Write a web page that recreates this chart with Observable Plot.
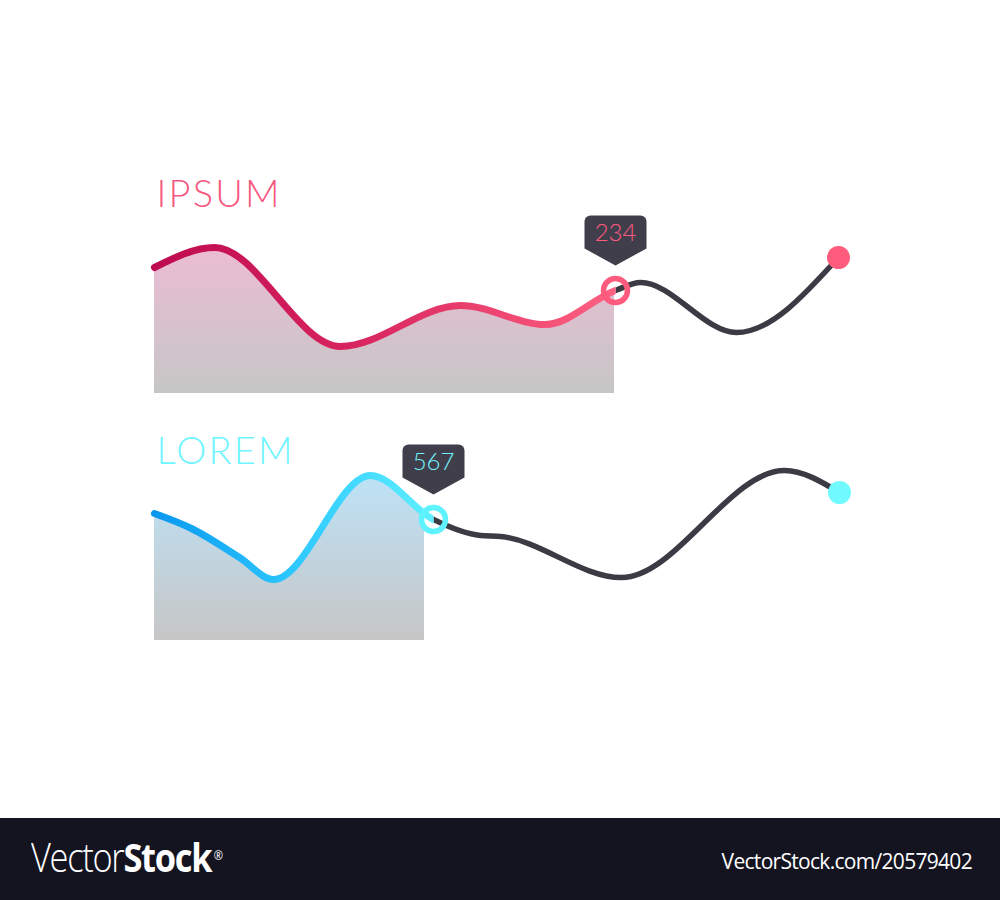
<!DOCTYPE html>
<html><head><meta charset="utf-8">
<script src="https://cdn.jsdelivr.net/npm/d3@7"></script>
<script src="https://cdn.jsdelivr.net/npm/@observablehq/plot@0.6"></script>
<style>
html,body{margin:0;padding:0;background:#fff;}
#page{width:1000px;height:900px;position:relative;overflow:hidden;background:#fff;}
#charts svg{display:block;}
#footer{position:absolute;left:0;top:818px;width:1000px;height:82px;background:#141421;color:#fff;font-family:"Open Sans",sans-serif;}
#footer .logo{position:absolute;left:31px;top:15px;font-size:40px;line-height:48px;letter-spacing:-1.5px;white-space:nowrap;transform:scaleX(0.86);transform-origin:0 50%;}
#footer .logo .thin{font-weight:300;}
#footer .logo .bold{font-weight:700;}
#footer .logo sup{font-size:13px;font-weight:400;vertical-align:top;position:relative;top:-2px;margin-left:3px;letter-spacing:0;}
#footer .url{position:absolute;right:28px;top:29px;font-size:21px;line-height:28px;letter-spacing:-0.7px;white-space:nowrap;}
</style></head>
<body><div id="page"><div id="charts"></div>
<div id="footer"><div class="logo"><span class="thin">Vector</span><span class="bold">Stock</span><sup>®</sup></div><div class="url">VectorStock.com/20579402</div></div>
</div>
<script>
// ---- data (x: position along the series, y: value above baseline) ----
const ipsumTitle = "IPSUM";
const ipsumX = [0, 60, 186, 306, 391, 461, 486, 582, 684];
const ipsumY = [126, 146, 47, 88, 69, 103, 111, 61, 136];
const ipsumMarkerIndex = 5;
const ipsumFillEnd = 460;
const ipsumLabel = "234";

const loremTitle = "LOREM";
const loremX = [0, 37, 85, 119, 216, 279, 326, 346, 467, 630, 685];
const loremY = [127, 112, 83, 61, 165, 121, 105, 104, 63, 170, 148];
const loremMarkerIndex = 5;
const loremFillEnd = 270;
const loremLabel = "567";

const xDomain = [0, 684];
const DARK = "#3b3a45";
const FONT = "Lato, 'Open Sans', sans-serif";
const CURVE = "monotone-x";

const callout = {
  draw(ctx) {
    const w = 31, tip = -25, side = -42, top = -75, r = 6;
    ctx.moveTo(0, tip);
    ctx.lineTo(-w, side);
    ctx.lineTo(-w, top + r);
    ctx.arcTo(-w, top, -w + r, top, r);
    ctx.lineTo(w - r, top);
    ctx.arcTo(w, top, w, top + r, r);
    ctx.lineTo(w, side);
    ctx.closePath();
  }
};

function makeChart(cfg) {
  const data = cfg.xs.map((x, i) => ({x, y: cfg.ys[i]}));
  const marker = data[cfg.markerIndex];
  const end = data[data.length - 1];
  const id = cfg.id;
  const plot = Plot.plot({
    width: 1000, height: cfg.height,
    marginLeft: 154, marginRight: 162, marginTop: cfg.marginTop, marginBottom: cfg.marginBottom,
    x: {domain: xDomain, axis: null},
    y: {domain: [0, cfg.yMax], axis: null},
    style: {background: "transparent", overflow: "visible"},
    marks: [
      Plot.areaY(data, {x: "x", y: "y", curve: CURVE, fill: `url(#${id}-area)`}),
      Plot.line(data, {x: "x", y: "y", curve: CURVE, stroke: DARK, strokeWidth: 5.5, strokeLinecap: "round"}),
      Plot.line(data, {x: "x", y: "y", curve: CURVE, stroke: `url(#${id}-line)`, strokeWidth: 7, strokeLinecap: "round"}),
      Plot.dot([end], {x: "x", y: "y", r: 11.5, fill: cfg.endColor}),
      Plot.dot([marker], {x: "x", y: "y", r: 12, fill: "none", stroke: cfg.ringColor, strokeWidth: 5.5}),
      Plot.dot([marker], {x: "x", y: "y", r: 10, symbol: callout, fill: "#403e4b"}),
      Plot.text([marker], {x: "x", y: "y", text: () => cfg.label, dy: -57, fill: cfg.labelColor, fontSize: 24, fontFamily: FONT, fontWeight: 300}),
      Plot.text([cfg.title], {frameAnchor: "top-left", text: d => d, textAnchor: "start", lineAnchor: "top", dx: 2, dy: cfg.titleDy, fill: cfg.titleColor, fontSize: 38, fontFamily: FONT, fontWeight: 300})
    ]
  });
  const svg = d3.select(plot);
  const X = plot.scale("x");
  const x0 = X.apply(xDomain[0]), mx = X.apply(marker.x), fx = X.apply(cfg.fillEnd);
  const defs = svg.insert("defs", ":first-child");
  const lg = defs.append("linearGradient").attr("id", id + "-line").attr("gradientUnits", "userSpaceOnUse")
    .attr("x1", x0).attr("x2", mx).attr("y1", 0).attr("y2", 0);
  cfg.lineStops.forEach(([o, c]) => lg.append("stop").attr("offset", o).attr("stop-color", c));
  const ag = defs.append("linearGradient").attr("id", id + "-area").attr("x1", 0).attr("x2", 0).attr("y1", 0).attr("y2", 1);
  cfg.areaStops.forEach(([o, c]) => ag.append("stop").attr("offset", o).attr("stop-color", c));
  const clip = (name, a, b) => defs.append("clipPath").attr("id", id + "-" + name)
    .append("rect").attr("x", a).attr("y", -100).attr("width", b - a).attr("height", cfg.height + 200);
  clip("fill", 0, fx); clip("left", 0, mx); clip("right", mx, 1000);
  const areas = plot.querySelectorAll('g[aria-label="area"]');
  const lines = plot.querySelectorAll('g[aria-label="line"]');
  const texts = plot.querySelectorAll('g[aria-label="text"]');
  areas[0].setAttribute("clip-path", `url(#${id}-fill)`);
  lines[0].setAttribute("clip-path", `url(#${id}-right)`);
  lines[1].setAttribute("clip-path", `url(#${id}-left)`);
  texts[texts.length - 1].setAttribute("letter-spacing", "2.2");
  return plot;
}

const holder = document.getElementById("charts");
holder.appendChild(makeChart({
  id: "ipsum", xs: ipsumX, ys: ipsumY, markerIndex: ipsumMarkerIndex, fillEnd: ipsumFillEnd,
  label: ipsumLabel, title: ipsumTitle,
  height: 420, marginTop: 170, marginBottom: 27, yMax: 223, titleDy: 10,
  titleColor: "#f6587f", labelColor: "#ff5a80", ringColor: "#ff5b7f", endColor: "#ff5b7c",
  lineStops: [[0, "#be0a50"], [0.45, "#d9265f"], [1, "#ff6182"]],
  areaStops: [[0, "#ecbcd4"], [1, "#c6c6c6"]]
}));
holder.appendChild(makeChart({
  id: "lorem", xs: loremX, ys: loremY, markerIndex: loremMarkerIndex, fillEnd: loremFillEnd,
  label: loremLabel, title: loremTitle,
  height: 398, marginTop: 10, marginBottom: 178, yMax: 210, titleDy: 7,
  titleColor: "#6ff5ff", labelColor: "#70f6ff", ringColor: "#5ff2ff", endColor: "#70faff",
  lineStops: [[0, "#0a98ef"], [0.5, "#2ec8ff"], [1, "#5ef0ff"]],
  areaStops: [[0, "#bde3f8"], [1, "#c6c6c6"]]
}));
</script>
</body></html>
